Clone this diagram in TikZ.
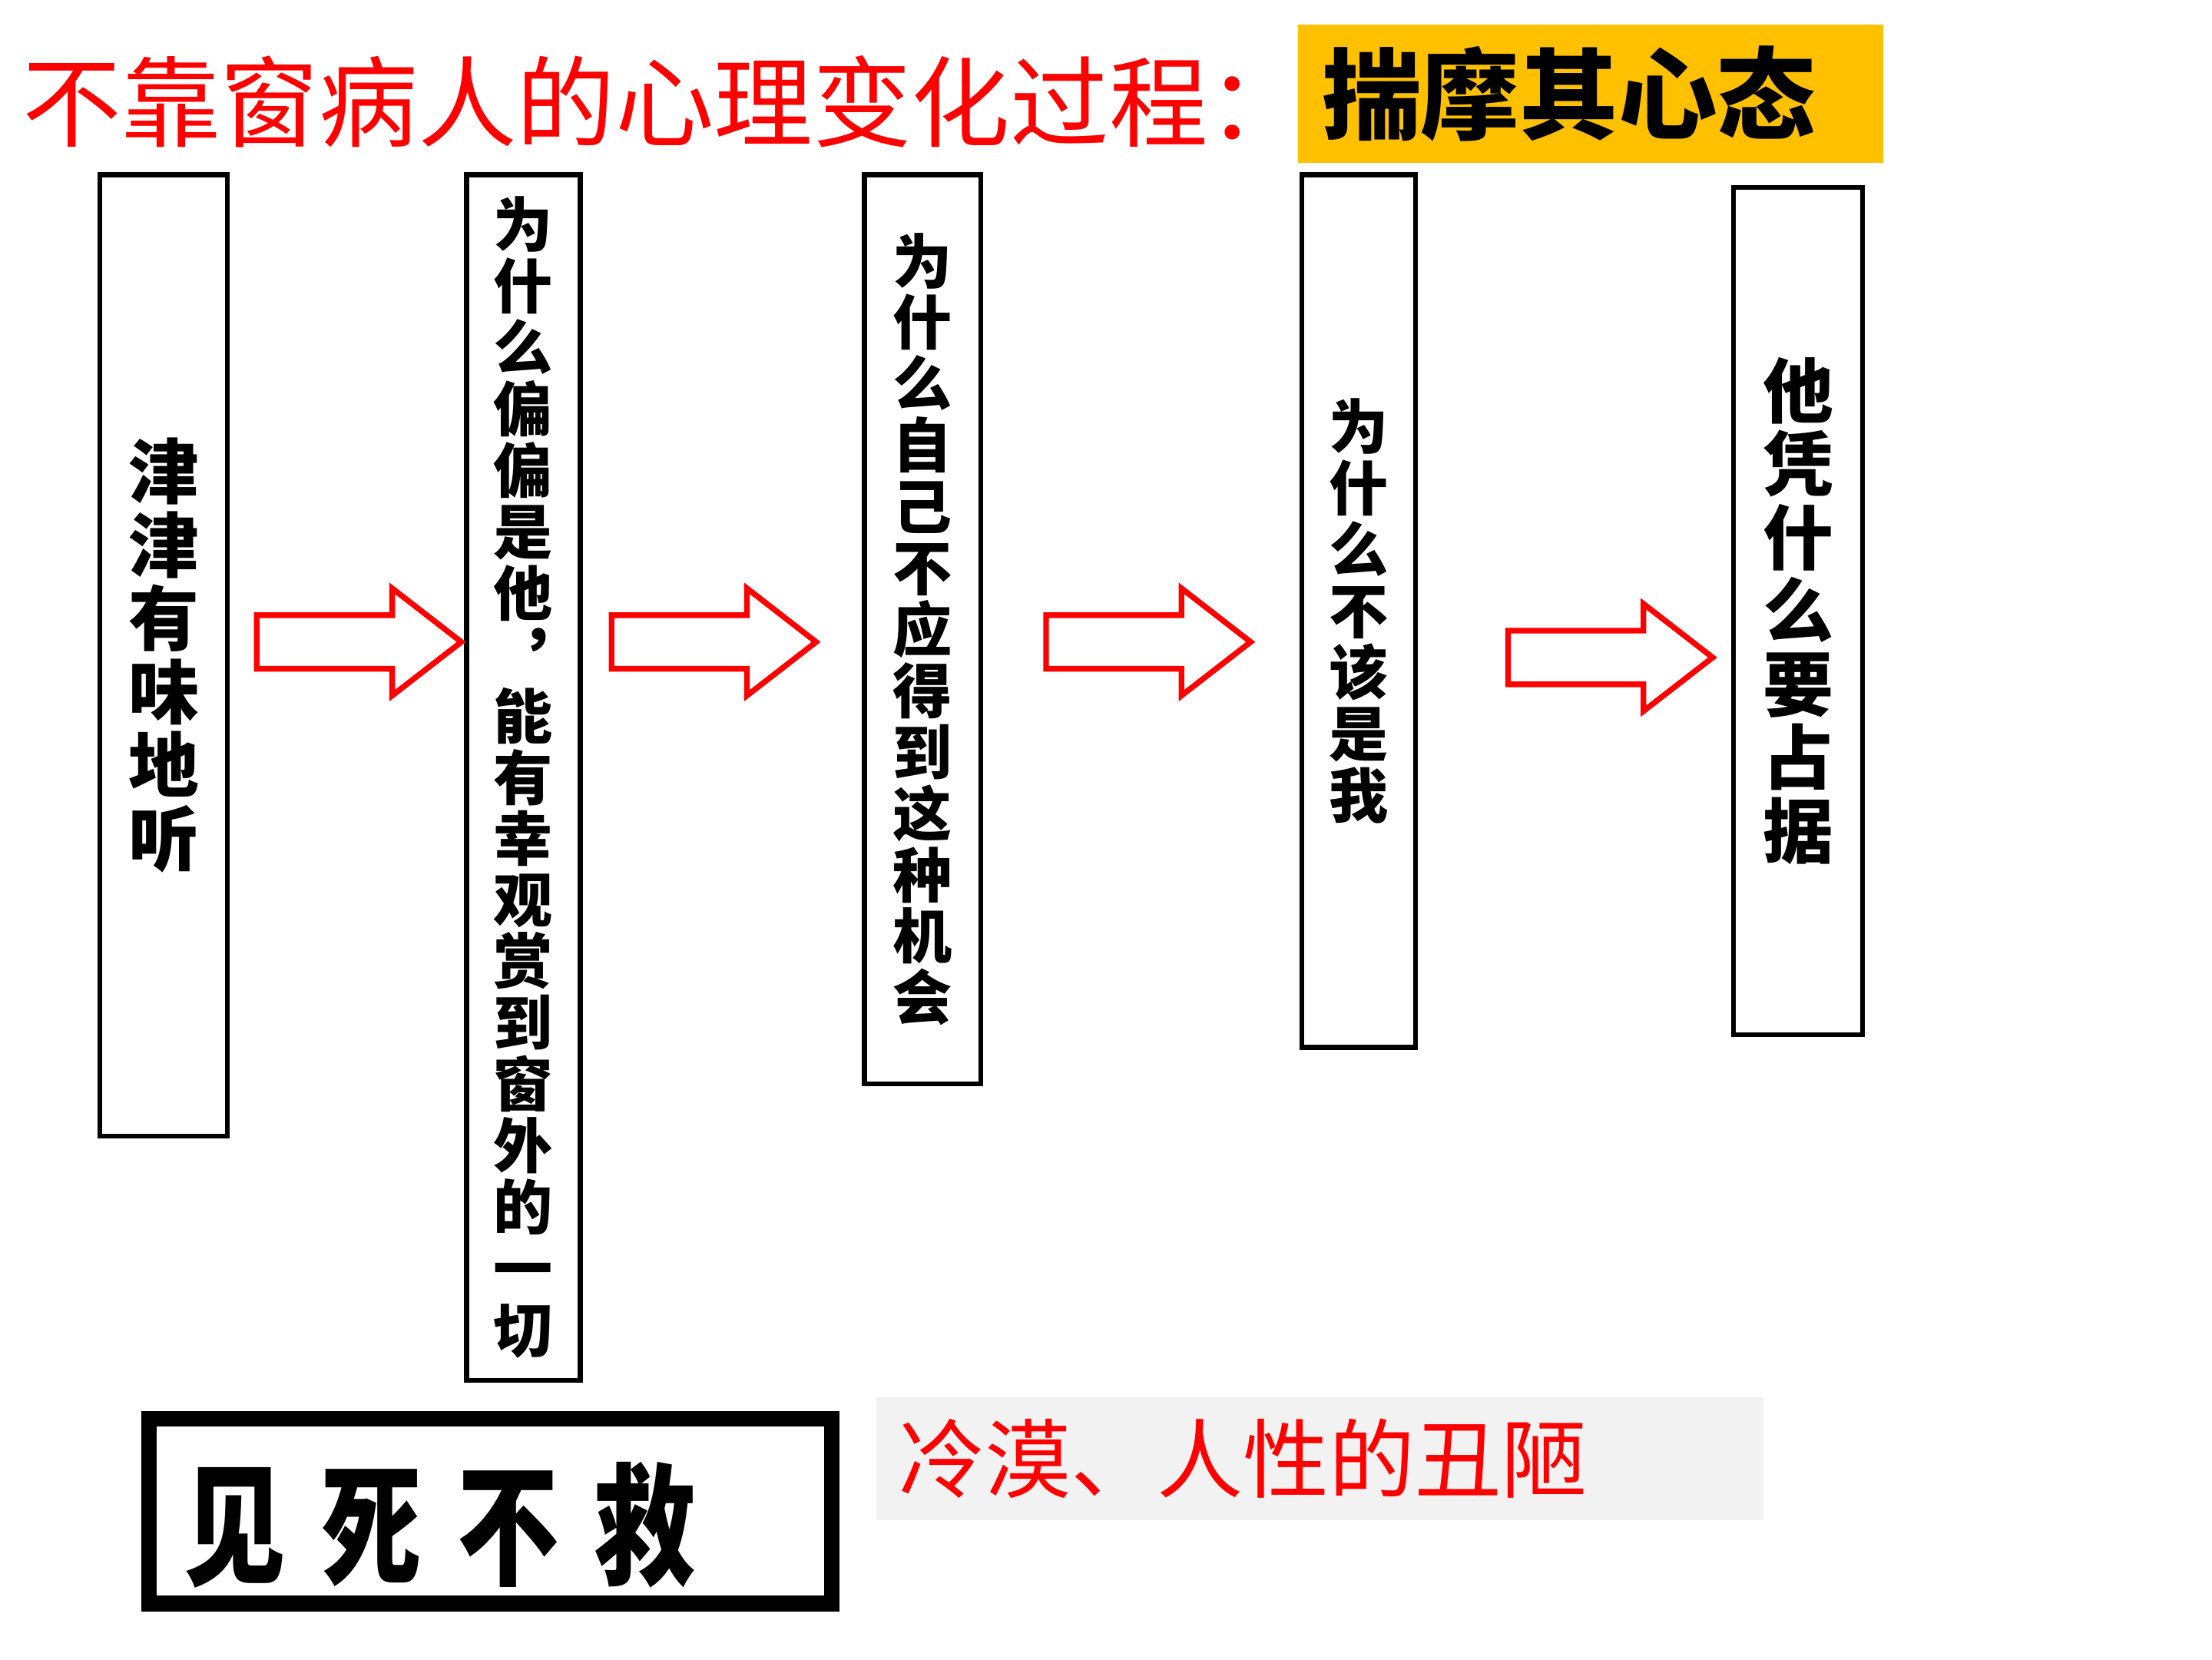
\documentclass[tikz,border=0pt]{standalone}
\usepackage{fontspec}
\setmainfont{Noto Sans CJK SC}
\usepackage{graphicx}
\usepackage{tikz}
\usetikzlibrary{positioning}
\definecolor{titlered}{RGB}{255,0,0}
\definecolor{tagorange}{RGB}{255,192,0}
\definecolor{notegray}{RGB}{242,242,242}
\newcommand{\fs}[2]{\fontsize{#1}{#2}\selectfont}

\begin{document}
\begin{tikzpicture}[x=1pt, y=-1pt,
   vbox/.style={draw, line width=3.5pt, inner sep=0pt, align=center},
   big/.style={font=\fs{50}{52}\bfseries},
   small/.style={font=\fs{42}{43.5}\bfseries},
   blockarrow/.pic={
     \draw[titlered, line width=4pt, line join=miter]
       (-73,-19) -- (23,-19) -- (23,-38) -- (72,0) -- (23,38) -- (23,19) -- (-73,19) -- cycle;}]
  \useasboundingbox (0,0) rectangle (1568,1176);
  % heading
  \node[anchor=west, inner sep=0pt, text=titlered, font=\fs{70}{70}] (title) at (16,72)
       {不靠窗病人的心理变化过程：};
  \node[fill=tagorange, anchor=north west, minimum height=98pt, text width=381pt,
        inner xsep=17pt, inner ysep=0pt, align=left, font=\fs{70}{70}\bfseries] (tag) at (920,17)
       {揣摩其心态};
  % the five stages
  \node[vbox, big, minimum width=90.5pt, minimum height=681.5pt] (b1) at (116,464.5)
       {津\\津\\有\\味\\地\\听};
  \node[vbox, small, minimum width=80.5pt, minimum height=854.5pt] (b2) at (371,551)
       {为\\什\\么\\偏\\偏\\是\\他\\︐\\能\\有\\幸\\观\\赏\\到\\窗\\外\\的\\一\\切};
  \node[vbox, small, minimum width=82.5pt, minimum height=644.5pt] (b3) at (654,446)
       {为\\什\\么\\自\\己\\不\\应\\得\\到\\这\\种\\机\\会};
  \node[vbox, small, minimum width=80.5pt, minimum height=618.5pt] (b4) at (963,433)
       {为\\什\\么\\不\\该\\是\\我};
  \node[vbox, big, minimum width=91.5pt, minimum height=600.5pt] (b5) at (1274.5,433)
       {他\\凭\\什\\么\\要\\占\\据};
  % block arrows between the stages
  \pic (a1) at (255,455) {blockarrow};
  \pic (a2) at (506.5,455) {blockarrow};
  \pic (a3) at (814.5,455) {blockarrow};
  \pic (a4) at (1142,466) {blockarrow};
  % conclusion
  \node[draw, line width=11pt, anchor=north west, minimum width=484pt, minimum height=131pt]
       (jsbj) at (100,1000) {};
  \node[inner sep=0pt, right=30pt of jsbj.west, yshift=-10pt, font=\fs{72}{72}\bfseries] (jstext)
       {\scalebox{1}[1.3]{见\hspace{25pt}死\hspace{25pt}不\hspace{25pt}救}};
  \node[fill=notegray, anchor=north west, minimum height=87pt, text width=597pt,
        inner xsep=16pt, inner ysep=0pt, align=left, text=titlered, font=\fs{61}{61}] (note)
       at (621,990) {冷漠、人性的丑陋};
\end{tikzpicture}
\end{document}
